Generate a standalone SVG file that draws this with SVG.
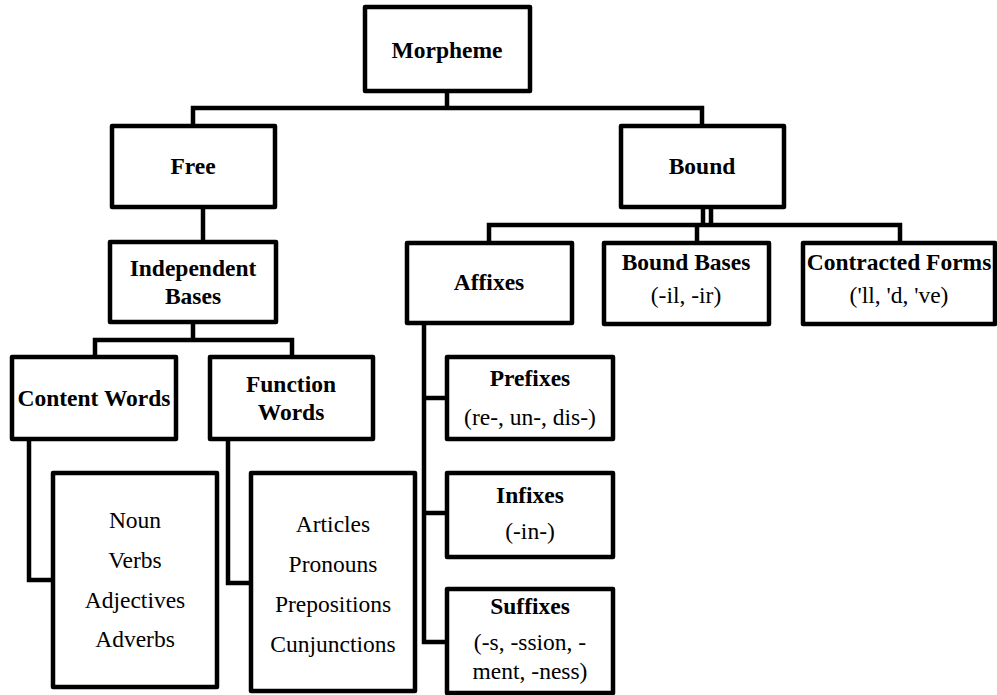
<svg xmlns="http://www.w3.org/2000/svg" width="997" height="695" viewBox="0 0 997 695">
  <style>
    .box { fill: #ffffff; stroke: #000000; stroke-width: 4.5; stroke-linejoin: round; }
    .link { fill: none; stroke: #000000; stroke-width: 4.5; stroke-linejoin: miter; }
    .hd { font-weight: bold; }
  </style>
  <rect x="0" y="0" width="997" height="695" fill="#ffffff"/>

  <!-- connectors -->
  <g id="connectors">
    <!-- Morpheme to Free / Bound -->
    <path class="link" d="M447 91 V108"/>
    <path class="link" d="M193 126 V108 H702 V126"/>
    <!-- Free to Independent Bases -->
    <path class="link" d="M203 207 V242"/>
    <!-- Independent Bases to Content / Function Words -->
    <path class="link" d="M193 322 V340"/>
    <path class="link" d="M95 357 V340 H292 V357"/>
    <!-- word lists -->
    <path class="link" d="M29 439 V580 H53"/>
    <path class="link" d="M228 439 V583 H251"/>
    <!-- Bound to its three children (double stem) -->
    <path class="link" d="M703 207 V225 M711 207 V225" stroke-width="3.5"/>
    <path class="link" d="M489 243 V225 H900 V243"/>
    <path class="link" d="M697 225 V243"/>
    <!-- Affixes to prefixes / infixes / suffixes -->
    <path class="link" d="M424 323 V642 H447"/>
    <path class="link" d="M424 398 H447"/>
    <path class="link" d="M424 513 H447"/>
  </g>

  <g font-family="Liberation Serif, Times New Roman, serif" font-size="23.5" text-anchor="middle" fill="#000">
  <g id="morpheme">
    <rect class="box" x="365" y="7" width="165" height="84"/>
    <text class="hd" x="447" y="58">Morpheme</text>
  </g>

  <g id="free">
    <rect class="box" x="112" y="126" width="163" height="81"/>
    <text class="hd" x="193" y="174">Free</text>
  </g>

  <g id="bound">
    <rect class="box" x="621" y="126" width="163" height="81"/>
    <text class="hd" x="702" y="174">Bound</text>
  </g>

  <g id="independent-bases">
    <rect class="box" x="110" y="242" width="166" height="80"/>
    <text class="hd" x="193" y="276">Independent</text>
    <text class="hd" x="193" y="304">Bases</text>
  </g>

  <g id="content-words">
    <rect class="box" x="12" y="357" width="164" height="82"/>
    <text class="hd" x="94" y="406">Content Words</text>
  </g>

  <g id="function-words">
    <rect class="box" x="210" y="357" width="163" height="82"/>
    <text class="hd" x="291" y="392">Function</text>
    <text class="hd" x="291" y="420">Words</text>
  </g>

  <g id="content-list">
    <rect class="box" x="53" y="473" width="164" height="214"/>
    <text x="135" y="528">Noun</text>
    <text x="135" y="568">Verbs</text>
    <text x="135" y="608">Adjectives</text>
    <text x="135" y="647">Adverbs</text>
  </g>

  <g id="function-list">
    <rect class="box" x="251" y="473" width="164" height="218"/>
    <text x="333" y="532">Articles</text>
    <text x="333" y="572">Pronouns</text>
    <text x="333" y="612">Prepositions</text>
    <text x="333" y="652">Cunjunctions</text>
  </g>

  <g id="affixes">
    <rect class="box" x="407" y="243" width="165" height="80"/>
    <text class="hd" x="489" y="290">Affixes</text>
  </g>

  <g id="bound-bases">
    <rect class="box" x="604" y="243" width="165" height="81"/>
    <text class="hd" x="686" y="270">Bound Bases</text>
    <text x="686" y="303">(-il, -ir)</text>
  </g>

  <g id="contracted-forms">
    <rect class="box" x="803" y="243" width="192" height="81"/>
    <text class="hd" x="899" y="270">Contracted Forms</text>
    <text x="899" y="303">('ll, 'd, 've)</text>
  </g>

  <g id="prefixes">
    <rect class="box" x="447" y="357" width="166" height="82"/>
    <text class="hd" x="530" y="386">Prefixes</text>
    <text x="530" y="425">(re-, un-, dis-)</text>
  </g>

  <g id="infixes">
    <rect class="box" x="447" y="473" width="166" height="84"/>
    <text class="hd" x="530" y="503">Infixes</text>
    <text x="530" y="539">(-in-)</text>
  </g>

  <g id="suffixes">
    <rect class="box" x="447" y="589" width="166" height="104"/>
    <text class="hd" x="530" y="614">Suffixes</text>
    <text x="530" y="650">(-s, -ssion, -</text>
    <text x="530" y="679">ment, -ness)</text>
  </g>
  </g>
</svg>
